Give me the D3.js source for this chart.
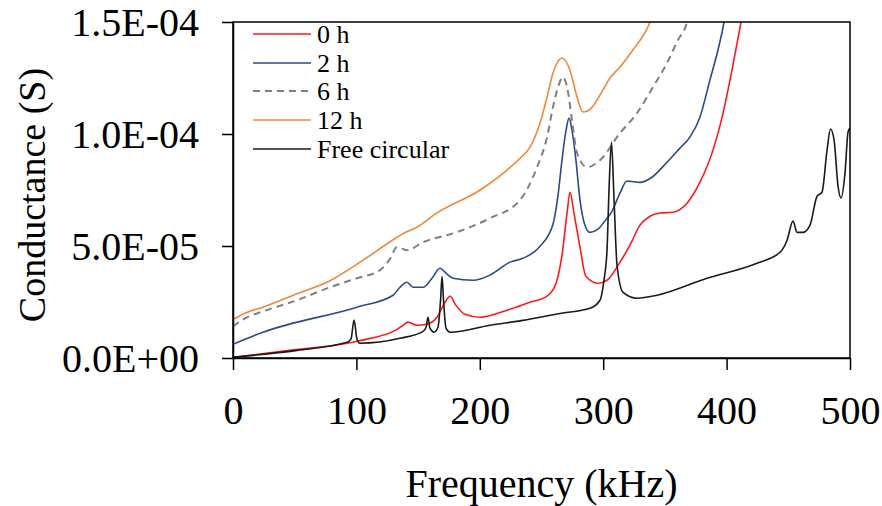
<!DOCTYPE html>
<html>
<head>
<meta charset="utf-8">
<script src="https://cdn.jsdelivr.net/npm/d3@7/dist/d3.min.js"></script>
<style>
  html, body { margin: 0; padding: 0; background: #fff; }
  svg { display: block; }
  svg text { font-family: "Liberation Serif", "DejaVu Serif", serif; fill: #000; }
</style>
</head>
<body>
<svg id="chart" width="882" height="506" font-family="Liberation Serif, DejaVu Serif, serif"></svg>
<script>
// ---- Data (frequency in kHz, conductance in S) ----
const xTicks = [0, 100, 200, 300, 400, 500];
const yTicks = [0, 5e-5, 1e-4, 1.5e-4];

const freq0h = [0, 46, 100.5, 133, 137.8, 141.8, 149.1, 157.2, 165.3, 171.8, 175.9, 180.7, 188, 200.2, 222, 240.7, 254.5, 261.8, 266.6, 270.7, 273.1, 276.3, 281.2, 286, 295.8, 303.1, 313.6, 321.7, 329.8, 337.9, 346, 356.6, 367.9, 378.4, 389, 397.1, 404.4, 411.7, 413];
const cond0h = [0.03e-5, 0.34e-5, 0.75e-5, 1.28e-5, 1.46e-5, 1.60e-5, 1.46e-5, 1.51e-5, 1.82e-5, 2.49e-5, 2.76e-5, 2.35e-5, 1.95e-5, 1.82e-5, 2.13e-5, 2.49e-5, 2.76e-5, 3.34e-5, 4.59e-5, 6.47e-5, 7.40e-5, 6.47e-5, 4.95e-5, 3.65e-5, 3.34e-5, 3.47e-5, 4.28e-5, 5.04e-5, 5.93e-5, 6.33e-5, 6.47e-5, 6.51e-5, 6.91e-5, 7.85e-5, 9.28e-5, 10.93e-5, 12.86e-5, 15.0e-5, 15.4e-5];

const freq2h = [0, 24.3, 100.5, 129.7, 135.3, 141, 145.9, 154, 161.3, 167.7, 173.4, 178.3, 194.5, 208.3, 224.5, 235, 248.8, 259.3, 263.4, 266.6, 269.9, 272.3, 274.7, 277.9, 281.2, 285.2, 289.3, 295.8, 300.6, 307.1, 313.6, 319.3, 329.8, 339.5, 351.7, 362.2, 370.3, 378.4, 386.5, 393, 397.9, 399];
const cond2h = [0.61e-5, 1.15e-5, 2.27e-5, 2.80e-5, 3.16e-5, 3.38e-5, 3.16e-5, 3.16e-5, 3.56e-5, 4.01e-5, 3.74e-5, 3.56e-5, 3.47e-5, 3.70e-5, 4.28e-5, 4.45e-5, 4.99e-5, 5.97e-5, 7.27e-5, 8.83e-5, 10.17e-5, 10.71e-5, 10.17e-5, 8.83e-5, 7.05e-5, 5.93e-5, 5.61e-5, 5.75e-5, 6.06e-5, 6.55e-5, 7.36e-5, 7.90e-5, 7.84e-5, 8.07e-5, 8.74e-5, 9.37e-5, 9.86e-5, 10.75e-5, 12.41e-5, 13.75e-5, 15.0e-5, 15.4e-5];

const freq6h = [0, 9.7, 24.3, 51.9, 78.6, 100.5, 119, 127, 133, 141, 154, 181.5, 208.3, 232.6, 246.4, 254.5, 259.3, 263.4, 267.4, 271.5, 274.7, 278.8, 286.9, 297.4, 313.6, 327.4, 340.4, 351.7, 360.6, 367.9, 369];
const cond6h = [1.41e-5, 1.77e-5, 2.08e-5, 2.58e-5, 3.16e-5, 3.56e-5, 3.92e-5, 4.40e-5, 4.95e-5, 4.81e-5, 5.17e-5, 5.62e-5, 6.24e-5, 7.05e-5, 8.52e-5, 9.86e-5, 11.2e-5, 12.1e-5, 12.54e-5, 11.87e-5, 10.62e-5, 9.15e-5, 8.52e-5, 8.83e-5, 10.04e-5, 10.93e-5, 12.1e-5, 13.17e-5, 14.2e-5, 15.0e-5, 15.3e-5];

const freq12h = [0, 9.7, 24.3, 51.9, 78.6, 100.5, 132.9, 137, 149, 165, 200, 222, 232.6, 240.7, 248.8, 254.5, 259.3, 266.6, 273, 278.8, 283.6, 291, 297.4, 305.5, 313.6, 324, 338, 340];
const cond12h = [1.72e-5, 2.0e-5, 2.27e-5, 2.87e-5, 3.45e-5, 4.19e-5, 5.39e-5, 5.53e-5, 5.84e-5, 6.47e-5, 7.49e-5, 8.39e-5, 8.92e-5, 9.41e-5, 10.49e-5, 11.65e-5, 12.72e-5, 13.39e-5, 12.86e-5, 11.65e-5, 10.98e-5, 11.2e-5, 11.74e-5, 12.5e-5, 12.99e-5, 13.75e-5, 15.0e-5, 15.3e-5];

const freqFree = [0, 51.9, 92.4, 95.6, 98.1, 100.5, 102.9, 135.3, 154, 156.5, 158, 159.6, 162.9, 166.1, 168.2, 169.4, 170.6, 172.6, 175.9, 208.3, 235, 265, 289.3, 297.4, 300.6, 303.1, 304.7, 306.7, 308.8, 311.2, 316.1, 327.4, 343.6, 384.1, 424.6, 443.3, 449, 453.8, 457.1, 462, 467.6, 473.3, 477.3, 481.4, 484.2, 487.1, 490.3, 492.7, 496, 498.4, 500];
const condFree = [0.03e-5, 0.34e-5, 0.70e-5, 0.84e-5, 1.69e-5, 0.84e-5, 0.66e-5, 0.88e-5, 1.19e-5, 1.37e-5, 1.82e-5, 1.33e-5, 1.15e-5, 1.37e-5, 2.58e-5, 3.65e-5, 2.58e-5, 1.33e-5, 1.15e-5, 1.46e-5, 1.68e-5, 1.99e-5, 2.22e-5, 2.58e-5, 3.47e-5, 4.81e-5, 7.49e-5, 9.64e-5, 7.05e-5, 4.14e-5, 2.93e-5, 2.67e-5, 2.80e-5, 3.56e-5, 4.23e-5, 4.72e-5, 5.26e-5, 6.11e-5, 5.61e-5, 5.61e-5, 5.93e-5, 7.22e-5, 7.40e-5, 9.28e-5, 10.22e-5, 9.73e-5, 7.67e-5, 7.14e-5, 8.29e-5, 10.08e-5, 10.26e-5];

const seriesNames = ["0 h", "2 h", "6 h", "12 h", "Free circular"];
const seriesColors = ["#ff1a1a", "#2a4a8a", "#7f7f7f", "#f0883a", "#1a1a1a"];
const seriesDash = [null, null, "7,5", null, null];
const seriesX = [freq0h, freq2h, freq6h, freq12h, freqFree];
const seriesY = [cond0h, cond2h, cond6h, cond12h, condFree];

// ---- Layout ----
const W = 882, H = 506;
const margin = { left: 233, top: 22, right: 32, bottom: 148 };
const iw = W - margin.left - margin.right;
const ih = H - margin.top - margin.bottom;
const SERIF = '"Liberation Serif", "DejaVu Serif", serif';

const svg = d3.select("#chart");
const x = d3.scaleLinear().domain([0, 500]).range([0, iw]);
const y = d3.scaleLinear().domain([0, 1.5e-4]).range([ih, 0]);

const fmtE = v => {
  if (v === 0) return "0.0E+00";
  const s = v.toExponential(1).toUpperCase();
  const m = s.match(/^(.*)E([+-])(\d+)$/);
  return m[1] + "E" + m[2] + m[3].padStart(2, "0");
};

const g = svg.append("g").attr("transform", `translate(${margin.left},${margin.top})`);

svg.append("defs").append("clipPath").attr("id", "clip")
  .append("rect").attr("x", 0).attr("y", 0).attr("width", iw).attr("height", ih);

// Series lines
const line = d3.line().x(d => x(d[0])).y(d => y(d[1])).curve(d3.curveMonotoneX);
const plot = g.append("g").attr("clip-path", "url(#clip)");
seriesX.forEach((xs, i) => {
  const pts = xs.map((f, j) => [f, seriesY[i][j]]);
  plot.append("path")
    .attr("d", line(pts))
    .attr("fill", "none")
    .attr("stroke", seriesColors[i])
    .attr("stroke-width", i === 2 ? 2 : 1.6)
    .attr("stroke-dasharray", seriesDash[i])
    .attr("stroke-linejoin", "round");
});

// Frame
g.append("rect").attr("x", 0).attr("y", 0).attr("width", iw).attr("height", ih)
  .attr("fill", "none").attr("stroke", "#000").attr("stroke-width", 1.5);

// Axes
const xAxis = g.append("g").attr("transform", `translate(0,${ih})`)
  .call(d3.axisBottom(x).tickValues(xTicks).tickSize(12).tickSizeOuter(0).tickPadding(26));
const yAxis = g.append("g")
  .call(d3.axisLeft(y).tickValues(yTicks).tickFormat(fmtE).tickSize(11).tickSizeOuter(0).tickPadding(23));

[xAxis, yAxis].forEach(a => {
  a.attr("font-family", SERIF);
  a.select(".domain").attr("stroke", "#000").attr("stroke-width", 1.5);
  a.selectAll(".tick line").attr("stroke", "#000").attr("stroke-width", 1.5);
  a.selectAll("text").style("font-family", SERIF).style("font-size", "40px").attr("fill", "#000");
});
xAxis.selectAll("text").attr("dy", "0.71em");
yAxis.selectAll("text").attr("dy", "0.34em");

// Axis titles
svg.append("text").attr("x", margin.left + iw / 2).attr("y", 497)
  .attr("text-anchor", "middle").style("font-family", SERIF).style("font-size", "40px").text("Frequency (kHz)");
svg.append("text").attr("transform", `translate(45,${margin.top + ih / 2 + 5}) rotate(-90)`)
  .attr("text-anchor", "middle").style("font-family", SERIF).style("font-size", "38px").text("Conductance (S)");

// Legend
const legendY = [34, 63, 91, 120, 149];
const legend = svg.append("g");
seriesNames.forEach((name, i) => {
  legend.append("line").attr("x1", 253).attr("x2", 311).attr("y1", legendY[i]).attr("y2", legendY[i])
    .attr("stroke", seriesColors[i]).attr("stroke-width", i === 2 ? 2 : 1.6)
    .attr("stroke-dasharray", seriesDash[i]);
  legend.append("text").attr("x", 317).attr("y", legendY[i] + 9)
    .style("font-family", SERIF).style("font-size", "26px").text(name);
});
</script>
</body>
</html>
